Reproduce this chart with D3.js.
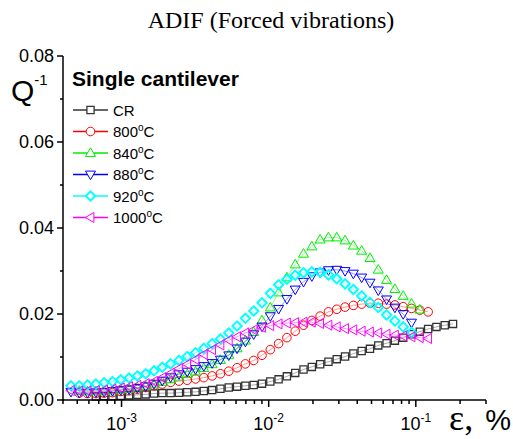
<!DOCTYPE html>
<html>
<head>
<meta charset="utf-8">
<script src="https://cdn.jsdelivr.net/npm/d3@7/dist/d3.min.js"></script>
<style>
  html, body { margin: 0; padding: 0; background: #fff; }
  svg { display: block; font-family: Arial, "Liberation Sans", sans-serif; }
</style>
</head>
<body>
<svg id="chart" width="513" height="439"></svg>
<script>
// ---- data ----
const strain = [4.53e-4, 5.16e-4, 5.87e-4, 6.69e-4, 7.61e-4, 8.68e-4, 9.88e-4, 1.125e-3, 1.281e-3, 1.459e-3,
  1.662e-3, 1.892e-3, 2.155e-3, 2.455e-3, 2.795e-3, 3.183e-3, 3.625e-3, 4.128e-3, 4.70e-3, 5.355e-3,
  6.098e-3, 6.945e-3, 7.91e-3, 9.01e-3, 1.026e-2, 1.168e-2, 1.330e-2, 1.515e-2, 1.725e-2, 1.965e-2,
  2.238e-2, 2.549e-2, 2.902e-2, 3.305e-2, 3.764e-2, 4.286e-2, 4.882e-2, 5.559e-2, 6.33e-2, 7.21e-2,
  8.21e-2, 9.35e-2, 1.065e-1, 1.213e-1, 1.381e-1, 1.573e-1, 1.791e-1];

const seriesNames = ["CR", "800", "840", "880", "920", "1000"];

const qCR = [null, null, null, 0.0008, 0.0009, 0.0009, 0.0010, 0.0011, 0.0012, 0.0013,
  0.0015, 0.0016, 0.0016, 0.0017, 0.0018, 0.0019, 0.0021, 0.0023, 0.0026, 0.0029,
  0.0031, 0.0033, 0.0035, 0.0038, 0.0043, 0.0048, 0.0055, 0.0063, 0.0071, 0.0077,
  0.0083, 0.0089, 0.0095, 0.0101, 0.0108, 0.0114, 0.0119, 0.0127, 0.0132, 0.0138,
  0.0145, 0.0153, 0.0159, 0.0165, 0.0170, 0.0174, 0.0177];

const q800 = [null, 0.0016, 0.0015, 0.0015, 0.0016, 0.0017, 0.0020, 0.0022, 0.0025, 0.0029,
  0.0033, 0.0037, 0.0041, 0.0044, 0.0046, 0.0049, 0.0052, 0.0056, 0.0061, 0.0067,
  0.0075, 0.0084, 0.0092, 0.0104, 0.0117, 0.0131, 0.0145, 0.0160, 0.0174, 0.0185,
  0.0195, 0.0205, 0.0211, 0.0216, 0.0220, 0.0223, 0.0225, 0.0225, 0.0223, 0.0221,
  0.0217, 0.0213, 0.0209, 0.0205, null, null, null];

const q840 = [null, 0.0021, 0.0020, 0.0020, 0.0021, 0.0022, 0.0024, 0.0026, 0.0029, 0.0032,
  0.0036, 0.0042, 0.0048, 0.0054, 0.0060, 0.0066, 0.0074, 0.0083, 0.0093, 0.0105,
  0.0120, 0.0138, 0.0158, 0.0185, 0.0215, 0.0250, 0.0285, 0.0315, 0.0340, 0.0357,
  0.0373, 0.0378, 0.0378, 0.0371, 0.0359, 0.0347, 0.0330, 0.0303, 0.0279, 0.0258,
  0.0242, 0.0224, 0.0210, null, null, null, null];

const q880 = [0.0019, 0.0017, 0.0017, 0.0018, 0.0019, 0.0021, 0.0023, 0.0025, 0.0028, 0.0032,
  0.0038, 0.0045, 0.0053, 0.0060, 0.0066, 0.0072, 0.0079, 0.0086, 0.0094, 0.0104,
  0.0120, 0.0136, 0.0153, 0.0171, 0.0195, 0.0212, 0.0235, 0.0257, 0.0275, 0.0288,
  0.0297, 0.0302, 0.0303, 0.0300, 0.0294, 0.0285, 0.0273, 0.0255, 0.0234, 0.0215,
  0.0200, 0.0180, null, null, null, null, null];

const q920 = [0.0033, 0.0033, 0.0035, 0.0037, 0.0040, 0.0043, 0.0047, 0.0051, 0.0056, 0.0061,
  0.0068, 0.0076, 0.0084, 0.0092, 0.0101, 0.0110, 0.0120, 0.0131, 0.0142, 0.0156,
  0.0172, 0.0190, 0.0207, 0.0226, 0.0248, 0.0268, 0.0281, 0.0290, 0.0296, 0.0298,
  0.0297, 0.0291, 0.0282, 0.0270, 0.0257, 0.0242, 0.0227, 0.0215, 0.0198, 0.0184,
  0.0170, 0.0157, null, null, null, null, null];

const q1000 = [0.0022, 0.0021, 0.0021, 0.0022, 0.0023, 0.0025, 0.0028, 0.0031, 0.0034, 0.0038,
  0.0043, 0.0052, 0.0062, 0.0073, 0.0083, 0.0094, 0.0106, 0.0117, 0.0128, 0.0139,
  0.0147, 0.0156, 0.0163, 0.0169, 0.0173, 0.0177, 0.0179, 0.0180, 0.0181, 0.0181,
  0.0178, 0.0174, 0.0170, 0.0166, 0.0163, 0.0160, 0.0158, 0.0156, 0.0153, 0.0151,
  0.0149, 0.0147, 0.0145, 0.0143, null, null, null];

const yTicks = [0, 0.02, 0.04, 0.06, 0.08];
const yMinor = [0.01, 0.03, 0.05, 0.07];
const xMajor = [1e-3, 1e-2, 1e-1];
const xMajorExp = ["-3", "-2", "-1"];

// ---- drawing ----
const SERIF = "'Liberation Serif', 'Times New Roman', 'DejaVu Serif', serif";
const svg = d3.select("#chart");
const x = d3.scaleLog().domain([4e-4, 0.3]).range([63, 486]);
const y = d3.scaleLinear().domain([0, 0.08]).range([400, 56]);

const styles = [
  { color: "#333333", shape: "square", sw: 1.3 },
  { color: "#ff0000", shape: "circle", sw: 1 },
  { color: "#00ee00", shape: "tri-up", sw: 1 },
  { color: "#0000ff", shape: "tri-down", sw: 1 },
  { color: "#00ffff", shape: "diamond", sw: 1.9 },
  { color: "#ff00ff", shape: "tri-left", sw: 1 }
];
const allSeries = [qCR, q800, q840, q880, q920, q1000];

function markerPath(shape) {
  switch (shape) {
    case "square": return "M-3.6,-3.6H3.6V3.6H-3.6Z";
    case "circle": return "M4.3,0A4.3,4.3 0 1,1 -4.3,0A4.3,4.3 0 1,1 4.3,0Z";
    case "tri-up": return "M0,-5.2L5,3.4L-5,3.4Z";
    case "tri-down": return "M0,5.2L5,-3.4L-5,-3.4Z";
    case "diamond": return "M0,-4.7L4.7,0L0,4.7L-4.7,0Z";
    case "tri-left": return "M-5.2,0L3.4,-5L3.4,5Z";
  }
}

const plot = svg.append("g");
allSeries.forEach((vals, si) => {
  const st = styles[si];
  const pts = strain.map((s, i) => ({ x: s, y: vals[i] })).filter(d => d.y != null);
  const line = d3.line().x(d => x(d.x)).y(d => y(d.y));
  const g = plot.append("g");
  g.append("path").attr("d", line(pts)).attr("fill", "none")
    .attr("stroke", st.color).attr("stroke-width", 0.5).attr("stroke-opacity", 0.8);
  g.selectAll("path.m").data(pts).enter().append("path").attr("class", "m")
    .attr("d", markerPath(st.shape))
    .attr("transform", d => `translate(${x(d.x)},${y(d.y)})`)
    .attr("fill", "none").attr("stroke", st.color).attr("stroke-width", st.sw);
});

// axes
const axisColor = "#000";
const yAxis = svg.append("g");
yAxis.append("line").attr("x1", 63).attr("x2", 63).attr("y1", y(0.08)).attr("y2", y(0) + 0.7)
  .attr("stroke", axisColor).attr("stroke-width", 1.5);
yTicks.forEach(t => {
  yAxis.append("line").attr("x1", 63).attr("x2", 57).attr("y1", y(t)).attr("y2", y(t))
    .attr("stroke", axisColor).attr("stroke-width", 1.5);
  yAxis.append("text").attr("x", 54).attr("y", y(t)).attr("dy", "0.36em")
    .attr("text-anchor", "end").attr("font-size", 18).text(d3.format(".2f")(t));
});
yMinor.forEach(t => {
  yAxis.append("line").attr("x1", 63).attr("x2", 60).attr("y1", y(t)).attr("y2", y(t))
    .attr("stroke", axisColor).attr("stroke-width", 1.5);
});

const xAxis = svg.append("g");
xAxis.append("line").attr("x1", 62.3).attr("x2", 486).attr("y1", 400).attr("y2", 400)
  .attr("stroke", axisColor).attr("stroke-width", 1.5);
const minorTicks = x.ticks().filter(t => !xMajor.some(m => Math.abs(m - t) / m < 1e-6));
minorTicks.forEach(t => {
  xAxis.append("line").attr("x1", x(t)).attr("x2", x(t)).attr("y1", 400).attr("y2", 404)
    .attr("stroke", axisColor).attr("stroke-width", 1.5);
});
xMajor.forEach((t, i) => {
  xAxis.append("line").attr("x1", x(t)).attr("x2", x(t)).attr("y1", 400).attr("y2", 407)
    .attr("stroke", axisColor).attr("stroke-width", 1.5);
  const tx = xAxis.append("text").attr("x", x(t)).attr("y", 430).attr("text-anchor", "middle")
    .attr("font-size", 18);
  tx.append("tspan").text("10");
  tx.append("tspan").attr("font-size", 12).attr("dy", -8).text(xMajorExp[i]);
});

// axis titles
const yl = svg.append("text").attr("x", 11).attr("y", 101).attr("font-size", 30);
yl.append("tspan").text("Q");
yl.append("tspan").attr("font-size", 15).attr("dy", -16).text("-1");

const xl = svg.append("text").attr("x", 511).attr("y", 430).attr("text-anchor", "end");
xl.append("tspan").style("font-family", SERIF).attr("font-size", 36).text("ε,");
xl.append("tspan").attr("font-size", 29).attr("dx", 12).text("%");

// title
svg.append("text").attr("x", 271).attr("y", 28).attr("text-anchor", "middle")
  .style("font-family", SERIF).attr("font-size", 24)
  .text("ADIF (Forced vibrations)");

// legend
svg.append("text").attr("x", 72).attr("y", 86).attr("font-size", 21).attr("font-weight", "bold")
  .text("Single cantilever");
const legendLabels = ["CR", "800", "840", "880", "920", "1000"];
legendLabels.forEach((lab, i) => {
  const cy = 110 + i * 21.5;
  const st = styles[i];
  const g = svg.append("g");
  g.append("line").attr("x1", 73).attr("x2", 108).attr("y1", cy).attr("y2", cy)
    .attr("stroke", st.color).attr("stroke-width", 1.3);
  g.append("path").attr("d", markerPath(st.shape)).attr("transform", `translate(90.5,${cy})`)
    .attr("fill", "#fff").attr("stroke", st.color).attr("stroke-width", st.sw);
  const t = g.append("text").attr("x", 113).attr("y", cy + 5.5).attr("font-size", 15);
  t.append("tspan").text(lab);
  if (lab !== "CR") {
    t.append("tspan").attr("font-size", 10).attr("dy", -6).text("o");
    t.append("tspan").attr("dy", 6).text("C");
  }
});
</script>
</body>
</html>
